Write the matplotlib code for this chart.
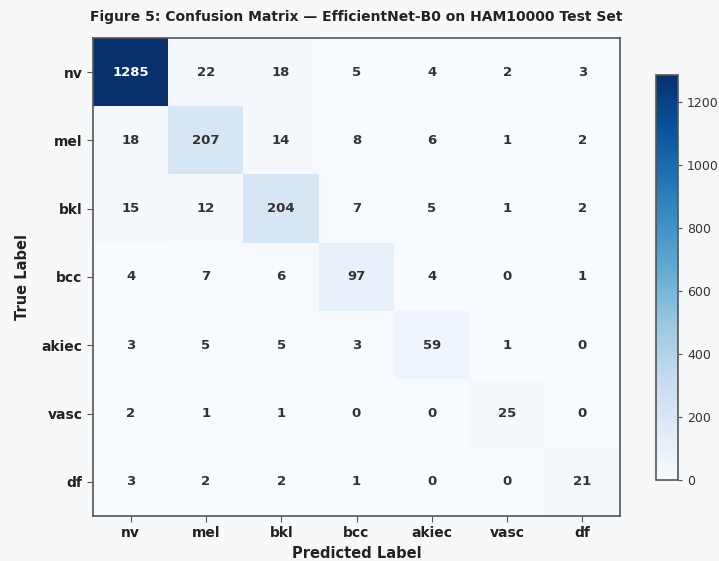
import numpy as np
import matplotlib
matplotlib.use("Agg")
import matplotlib.pyplot as plt

classes = ["nv", "mel", "bkl", "bcc", "akiec", "vasc", "df"]
cm_nv = [1285, 22, 18, 5, 4, 2, 3]
cm_mel = [18, 207, 14, 8, 6, 1, 2]
cm_bkl = [15, 12, 204, 7, 5, 1, 2]
cm_bcc = [4, 7, 6, 97, 4, 0, 1]
cm_akiec = [3, 5, 5, 3, 59, 1, 0]
cm_vasc = [2, 1, 1, 0, 0, 25, 0]
cm_df = [3, 2, 2, 1, 0, 0, 21]
cbar_ticks = [0, 200, 400, 600, 800, 1000, 1200]

cm = np.array([cm_nv, cm_mel, cm_bkl, cm_bcc, cm_akiec, cm_vasc, cm_df])

bg = "#f6f8fa"
fig = plt.figure(figsize=(7.19, 5.61), dpi=100, facecolor=bg)
ax = fig.add_axes([93 / 719, 1 - 516 / 561, 527 / 719, 478 / 561])
cax = fig.add_axes([656 / 719, 1 - 480 / 561, 22 / 719, 405 / 561])

im = ax.imshow(cm, cmap="Blues", vmin=0, vmax=cm.max(), aspect="auto",
               interpolation="nearest")

thresh = cm.max() / 2
for i in range(cm.shape[0]):
    for j in range(cm.shape[1]):
        v = cm[i, j]
        ax.text(j, i, str(v), ha="center", va="center", fontsize=9.5,
                fontweight="bold", color="white" if v > thresh else "#333333")

ax.set_xticks(range(len(classes)))
ax.set_xticklabels(classes, fontsize=10, fontweight="bold", color="#222222")
ax.set_yticks(range(len(classes)))
ax.set_yticklabels(classes, fontsize=10, fontweight="bold", color="#222222")
ax.tick_params(colors="#555555", labelcolor="#222222", length=4)
for s in ax.spines.values():
    s.set_color("#555555")
    s.set_linewidth(1.2)

ax.set_xlabel("Predicted Label", fontsize=10.5, fontweight="bold",
              color="#222222", labelpad=4)
ax.set_ylabel("True Label", fontsize=10.5, fontweight="bold",
              color="#222222", labelpad=8)
ax.set_title("Figure 5: Confusion Matrix \u2014 EfficientNet-B0 on HAM10000 Test Set",
             fontsize=10, fontweight="bold", color="#222222", pad=12)

cb = fig.colorbar(im, cax=cax, ticks=cbar_ticks)
cb.ax.tick_params(labelsize=9, colors="#555555", labelcolor="#333333", length=3)
cb.outline.set_edgecolor("#555555")
cb.outline.set_linewidth(1.2)

fig.savefig("out.png", dpi=100, facecolor=bg)
